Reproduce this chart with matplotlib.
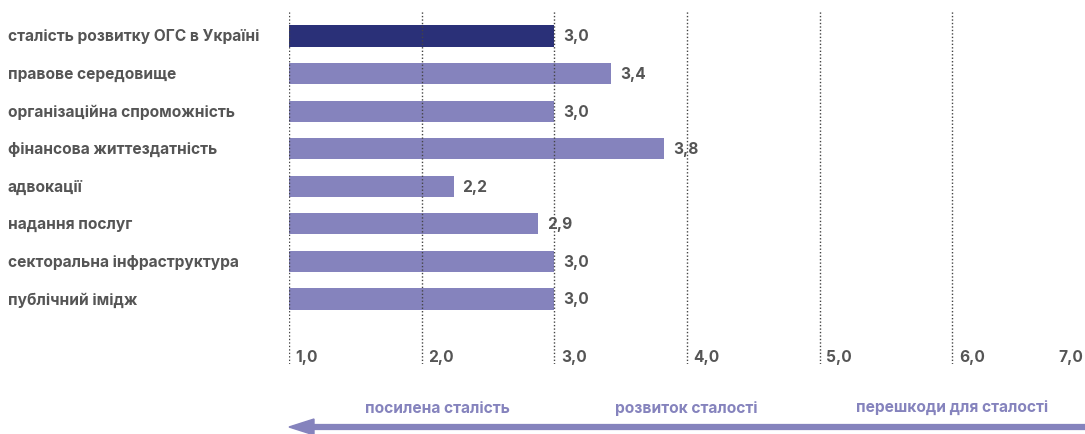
import matplotlib.pyplot as plt
import matplotlib.transforms as mtransforms

# Data
categories = [
    "сталість розвитку ОГС в Україні",
    "правове середовище",
    "організаційна спроможність",
    "фінансова життездатність",
    "адвокації",
    "надання послуг",
    "секторальна інфраструктура",
    "публічний імідж",
]
values = [3.0, 3.43, 3.0, 3.83, 2.24, 2.88, 3.0, 3.0]
ticks = [1, 2, 3, 4, 5, 6, 7]
tick_labels = ["1,0", "2,0", "3,0", "4,0", "5,0", "6,0", "7,0"]
zones = ["посилена сталість", "розвиток сталості", "перешкоди для сталості"]

dark = "#2a3078"
light = "#8583bd"
grey = "#555555"

plt.rcParams["font.family"] = ["Inter", "DejaVu Sans"]
FS = 11.2

W, H = 1085, 435
fig = plt.figure(figsize=(W / 100, H / 100), dpi=100)
ax = fig.add_axes([289 / W, 1 - 365 / H, (1085 - 289) / W, (365 - 12) / H])

colors = [dark] + [light] * (len(values) - 1)
ypos = list(range(len(categories)))
ax.barh(ypos, [v - 1 for v in values], left=1, height=0.56, color=colors, zorder=2)

ax.set_xlim(1, 7)
ax.set_ylim(8.73, -0.665)

# dotted gridlines
for t in ticks[:-1]:
    ax.axvline(t, color="#444444", lw=1.0, ls=(0, (1, 1.5)), zorder=3)

# value labels
for y, v in zip(ypos, values):
    ax.text(v + 0.065, y, f"{v:.1f}".replace(".", ","), va="center", ha="left",
            fontsize=FS, fontweight="bold", color=grey, zorder=4)

# tick labels inside the axes
for t, lab in zip(ticks, tick_labels):
    ha = "right" if t == 7 else "left"
    off = -0.01 if t == 7 else 0.05
    ax.text(t + off, 8.52, lab, ha=ha, va="center", fontsize=FS,
            fontweight="bold", color=grey)

# category labels
trans = mtransforms.blended_transform_factory(fig.transFigure, ax.transData)
for y, c in zip(ypos, categories):
    ax.text(8 / W, y, c, transform=trans, ha="left", va="center", fontsize=FS,
            fontweight="bold", color=grey)

ax.set_xticks([])
ax.set_yticks([])
for s in ax.spines.values():
    s.set_visible(False)

# bottom arrow and zone texts
fig.add_artist(plt.Line2D([305 / W, 1085 / W], [1 - 428 / H, 1 - 428 / H],
                          color=light, lw=4.5, transform=fig.transFigure))
fig.patches.append(plt.Polygon([[289 / W, 1 - 428 / H], [314 / W, 1 - 420 / H],
                                [314 / W, 1 - 436 / H]], closed=True,
                               color=light, transform=fig.transFigure))
for x, z in zip([437, 686, 952], zones):
    fig.text(x / W, 1 - 409 / H, z, ha="center", va="center", fontsize=FS,
             fontweight="bold", color=light)

fig.savefig("out.png", dpi=100)
